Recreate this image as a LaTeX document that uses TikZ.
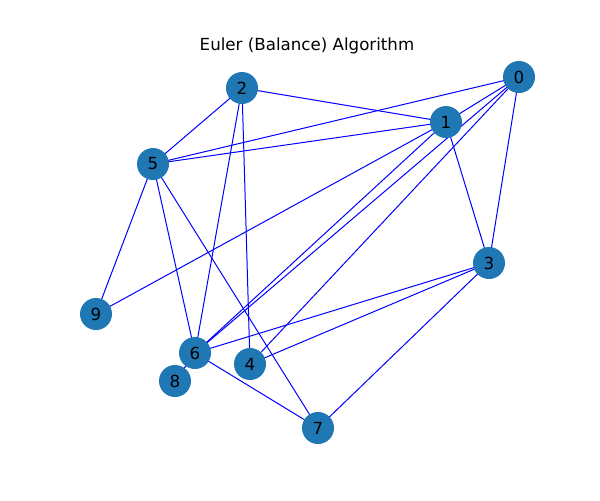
\documentclass[tikz,border=0pt]{standalone}
\usepackage{fontspec}
\setmainfont{DejaVu Sans}
\definecolor{nodeblue}{HTML}{1F77B4}
\begin{document}
\begin{tikzpicture}[x=0.75pt,y=-0.75pt,
  vtx/.style={circle,fill=nodeblue,minimum size=24pt,inner sep=0pt,font=\fontsize{12.5}{14}\selectfont},
  edge/.style={blue,line width=0.75pt}]
\useasboundingbox (0,0) rectangle (600,500);
\node[font=\fontsize{12.5}{14}\selectfont] (title) at (307,46) {Euler (Balance) Algorithm};
\coordinate (p0) at (519,77);
\coordinate (p1) at (446,122);
\coordinate (p2) at (242,88);
\coordinate (p3) at (489,263);
\coordinate (p4) at (250,364);
\coordinate (p5) at (153,164);
\coordinate (p6) at (195,353);
\coordinate (p7) at (318,428);
\coordinate (p8) at (175,381);
\coordinate (p9) at (96,314);
\foreach \a/\b in {2/1,2/5,2/6,2/4,0/5,0/1,0/3,0/6,0/4,1/5,1/3,1/9,1/6,5/9,5/6,5/7,3/6,3/4,3/7,6/7,6/8}
  \draw[edge] (p\a) -- (p\b);
\foreach \i in {0,...,9}
  \node[vtx] (n\i) at (p\i) {\i};
\end{tikzpicture}
\end{document}
